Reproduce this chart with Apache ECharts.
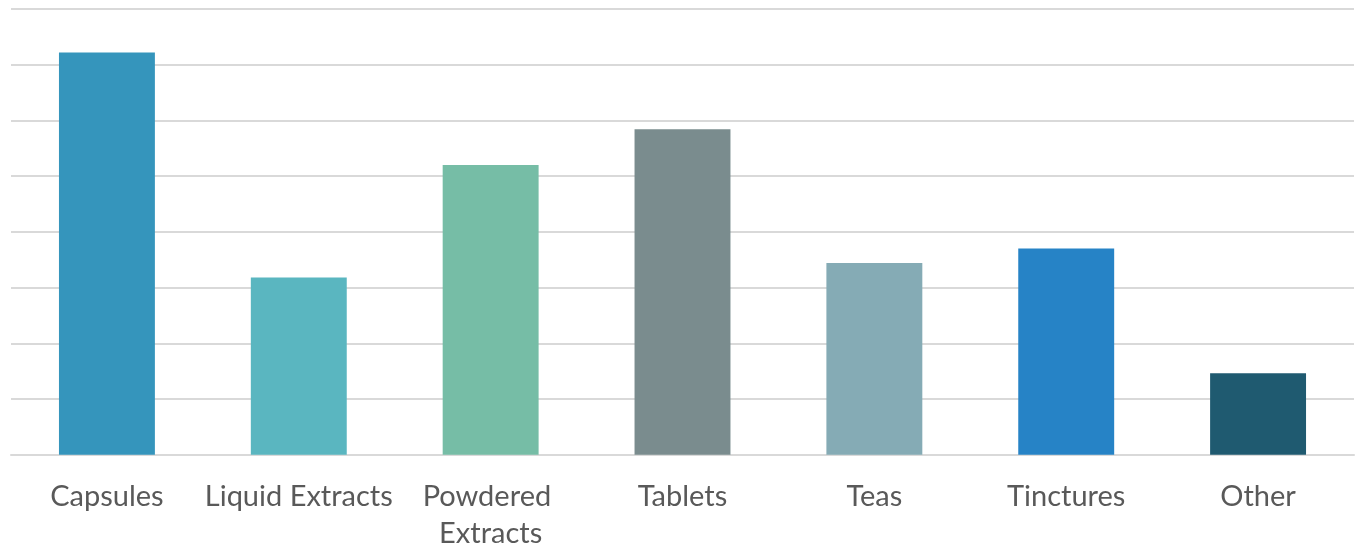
<!DOCTYPE html>
<html>
<head>
<meta charset="utf-8">
<title>Herbal supplement formats</title>
<script src="https://cdn.jsdelivr.net/npm/echarts@6/dist/echarts.min.js"></script>
<style>
  html, body { margin: 0; padding: 0; background: #ffffff; }
  #chart { width: 1360px; height: 550px; }
</style>
</head>
<body>
<div id="chart"></div>
<script>
// Product formats and their share values
const categories = ['Capsules', 'Liquid Extracts', 'Powdered Extracts', 'Tablets', 'Teas', 'Tinctures', 'Other'];
const values = [36.1, 15.9, 26.0, 29.2, 17.2, 18.5, 7.3];
const barColors = ['#3595bc', '#5ab6c0', '#76bda6', '#7a8c8e', '#85abb5', '#2683c6', '#1f5a70'];

const chart = echarts.init(document.getElementById('chart'), null, { renderer: 'canvas' });

chart.setOption({
  animation: false,
  backgroundColor: '#ffffff',
  grid: { left: 11, right: 6, top: 9, bottom: 95.3, containLabel: false, outerBoundsMode: 'none' },
  xAxis: {
    type: 'category',
    data: categories,
    axisLine: { show: true, lineStyle: { color: '#d9d9d9', width: 2 } },
    axisTick: { show: false },
    axisLabel: {
      interval: 0,
      color: '#595959',
      fontFamily: 'Lato, "Noto Sans", sans-serif',
      fontSize: 29,
      lineHeight: 37,
      margin: 23,
      width: 190,
      overflow: 'break'
    }
  },
  yAxis: {
    type: 'value',
    min: 0,
    max: 40,
    interval: 5,
    axisLabel: { show: false },
    axisLine: { show: false },
    axisTick: { show: false },
    splitLine: { show: true, lineStyle: { color: '#d9d9d9', width: 2 } }
  },
  series: [{
    type: 'bar',
    data: values.map((v, i) => ({ value: v, itemStyle: { color: barColors[i] } })),
    barCategoryGap: '50%'
  }]
});
</script>
</body>
</html>
